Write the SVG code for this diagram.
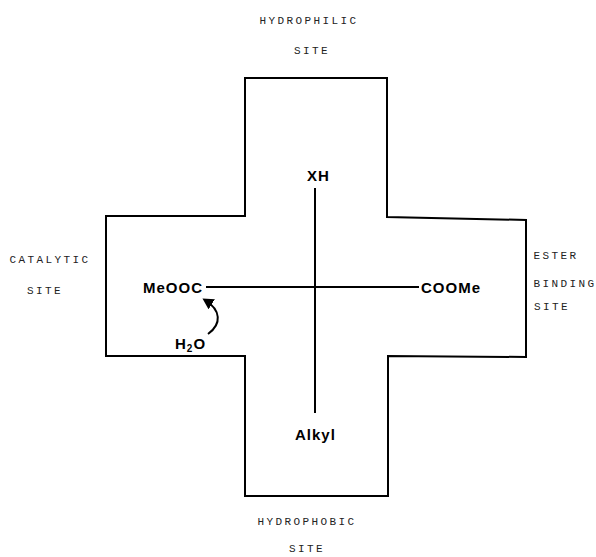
<svg xmlns="http://www.w3.org/2000/svg" width="596" height="557" viewBox="0 0 596 557">
<style>
.lab{font-family:"Liberation Mono","DejaVu Sans Mono",monospace;font-size:11px;letter-spacing:2.4px;fill:#222;text-anchor:middle}
.chem{font-family:"Liberation Sans",Arial,sans-serif;font-size:15px;font-weight:bold;letter-spacing:1px;fill:#000}
.sub{font-size:10px}
.ln{fill:none;stroke:#000;stroke-width:2}
</style>
<defs>
<marker id="ah" markerWidth="14" markerHeight="14" refX="8" refY="6" orient="auto" markerUnits="userSpaceOnUse">
<path d="M0,0 L11,6 L0,12 Z" fill="#000"/>
</marker>
</defs>
<rect width="596" height="557" fill="#fff"/>
<g id="cross">
<path class="ln" d="M245,78 L387,78 L387,217 L526,220 L526,357 L388,356 L388,496 L245,496 L245,356 L106,356 L106,216 L245,216 Z"/>
</g>
<g id="labels">
<text class="lab" x="309" y="24">HYDROPHILIC</text>
<text class="lab" x="312" y="54">SITE</text>
<text class="lab" x="50" y="263">CATALYTIC</text>
<text class="lab" x="45" y="294">SITE</text>
<text class="lab" x="556" y="259">ESTER</text>
<text class="lab" x="565" y="287">BINDING</text>
<text class="lab" x="552" y="310">SITE</text>
<text class="lab" x="307" y="525">HYDROPHOBIC</text>
<text class="lab" x="307" y="552">SITE</text>
</g>
<g id="connectors">
<line class="ln" x1="315" y1="188" x2="315" y2="413"/>
<line class="ln" x1="206" y1="287" x2="419" y2="287"/>
<path class="ln" d="M208,334 C222,324 221,310 205,300" marker-end="url(#ah)"/>
</g>
<g id="XH"><text class="chem" x="307" y="181">XH</text></g>
<g id="MeOOC"><text class="chem" x="143" y="293">MeOOC</text></g>
<g id="COOMe"><text class="chem" x="421" y="293">COOMe</text></g>
<g id="H2O"><text class="chem" x="175" y="349">H<tspan class="sub" dy="3">2</tspan><tspan dy="-3">O</tspan></text></g>
<g id="Alkyl"><text class="chem" x="295" y="440">Alkyl</text></g>
</svg>
